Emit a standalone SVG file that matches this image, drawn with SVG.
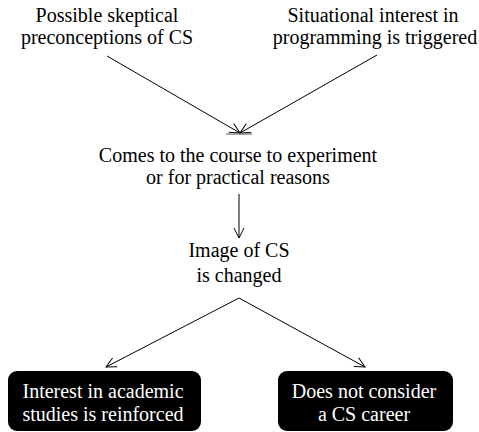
<svg xmlns="http://www.w3.org/2000/svg" width="479" height="432" viewBox="0 0 479 432">
<style>
text{font-size:20px;text-anchor:middle;fill:#000}
.w{fill:#fff}
.c{stroke:#000;stroke-width:1;fill:none}
.box{fill:#000}
</style>
<defs>
<marker id="a" viewBox="0 0 12 12" refX="11" refY="6" markerWidth="12" markerHeight="12" markerUnits="userSpaceOnUse" orient="auto">
<path d="M1,1 L11,6 L1,11" fill="none" stroke="#000" stroke-width="1"/>
</marker>
</defs>
<g font-family="Liberation Serif, Times New Roman, serif">
<g id="n1"><text x="107" y="22">Possible skeptical</text><text x="107" y="44">preconceptions of CS</text></g>
<g id="n2"><text x="373" y="22">Situational interest in</text><text x="375" y="44">programming is triggered</text></g>
<g id="n3"><text x="238" y="162">Comes to the course to experiment</text><text x="238" y="184">or for practical reasons</text></g>
<g id="n4"><text x="239" y="257">Image of CS</text><text x="239" y="282">is changed</text></g>
<g id="n5"><rect class="box" x="8" y="371" width="193" height="60" rx="9"/><text class="w" x="103" y="398">Interest in academic</text><text class="w" x="103" y="421">studies is reinforced</text></g>
<g id="n6"><rect class="box" x="278" y="371" width="175" height="60" rx="9"/><text class="w" x="364" y="398">Does not consider</text><text class="w" x="364" y="421">a CS career</text></g>
</g>
<g id="connectors">
<line class="c" x1="107" y1="56" x2="240" y2="133" marker-end="url(#a)"/>
<line class="c" x1="377" y1="55" x2="240" y2="133" marker-end="url(#a)"/>
<line x1="226" y1="134" x2="252" y2="134" stroke="#555" stroke-width="1"/>
<line class="c" x1="239" y1="194" x2="239" y2="238" marker-end="url(#a)"/>
<line class="c" x1="239" y1="298" x2="106" y2="367" marker-end="url(#a)"/>
<line class="c" x1="239" y1="298" x2="365" y2="367" marker-end="url(#a)"/>
</g>
</svg>
